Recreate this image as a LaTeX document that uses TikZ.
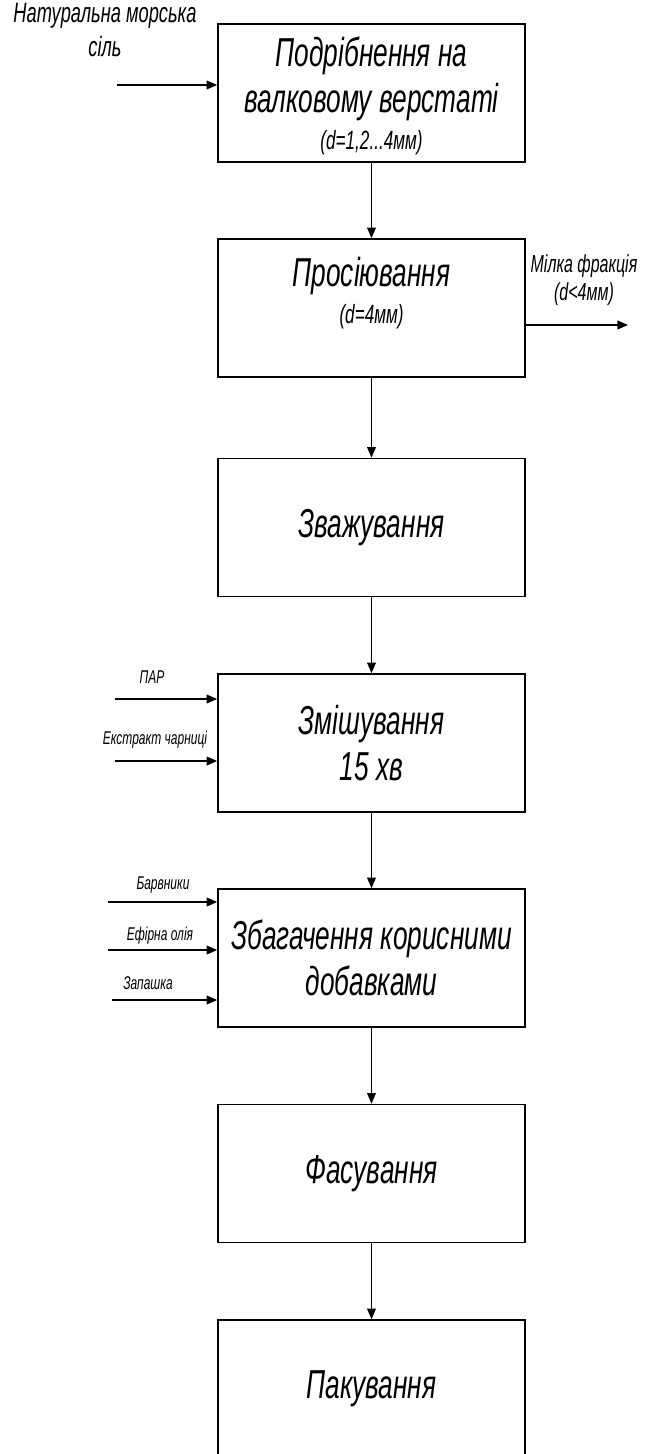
\documentclass[tikz,border=0pt]{standalone}
\usepackage{fontspec}
\setmainfont{Liberation Sans}[FakeStretch=0.65]
\usetikzlibrary{arrows.meta}

\begin{document}
\begin{tikzpicture}[x=0.02cm,y=-0.02cm,
    stage/.style={draw,line width=1pt,minimum width=6.14cm,minimum height=2.76cm,
      align=center,inner sep=0pt,font=\itshape\fontsize{23}{26}\selectfont},
    flow/.style={line width=0.7pt,-{Triangle[length=6pt,width=5pt]}},
    feed/.style={align=center,font=\itshape\fontsize{10.5}{12}\selectfont},
    side/.style={align=center,font=\itshape\fontsize{15}{16}\selectfont}]
  \useasboundingbox (0,0) rectangle (660,1454);
  \clip (0,0) rectangle (660,1454);
  \node[stage,text depth=0pt] (b1) at (371.5,93) {Подрібнення на\\валковому верстаті\\[-5pt]
    {\fontsize{15}{17}\selectfont(d=1,2...4мм)}};
  \node[stage,text depth=20pt] (b2) at (371.5,308) {Просіювання\\[-5pt]{\fontsize{15}{17}\selectfont(d=4мм)}};
  \node[stage] (b3) at (371.5,527.5) {Зважування};
  \node[stage] (b4) at (371.5,743) {Змішування\\15 хв};
  \node[stage] (b5) at (371.5,958) {Збагачення корисними\\добавками};
  \node[stage] (b6) at (371.5,1173.5) {Фасування};
  \node[stage] (b7) at (371.5,1389) {Пакування};

  \draw[flow] (b1.south) -- (b2.north);
  \draw[flow] (b2.south) -- (b3.north);
  \draw[flow] (b3.south) -- (b4.north);
  \draw[flow] (b4.south) -- (b5.north);
  \draw[flow] (b5.south) -- (b6.north);
  \draw[flow] (b6.south) -- (b7.north);

  \coordinate (salt) at (117,85);
  \node[side,font=\itshape\fontsize{16}{19}\selectfont] (saltlbl) at (105,30) {Натуральна морська\\сіль};
  \draw[flow] (salt) -- (salt -| b1.west);

  \coordinate (fine) at (628,325);
  \node[side,font=\itshape\fontsize{14}{16}\selectfont] (finelbl) at (584,280) {Мілка фракція\\(d<4мм)};
  \draw[flow] (b2.east |- fine) -- (fine);

  \coordinate (par) at (115,699);
  \coordinate (extr) at (115,761);
  \node[feed] (parlbl) at (152,677) {ПАР};
  \node[feed] (extrlbl) at (155,740) {Екстракт чарниці};
  \draw[flow] (par) -- (par -| b4.west);
  \draw[flow] (extr) -- (extr -| b4.west);

  \coordinate (dye) at (108,902);
  \coordinate (oil) at (108,950);
  \coordinate (aroma) at (112,1000);
  \node[feed] (dyelbl) at (163,885) {Барвники};
  \node[feed] (oillbl) at (160,936) {Ефірна олія};
  \node[feed] (aromalbl) at (148,983) {Запашка};
  \draw[flow] (dye) -- (dye -| b5.west);
  \draw[flow] (oil) -- (oil -| b5.west);
  \draw[flow] (aroma) -- (aroma -| b5.west);
\end{tikzpicture}
\end{document}
